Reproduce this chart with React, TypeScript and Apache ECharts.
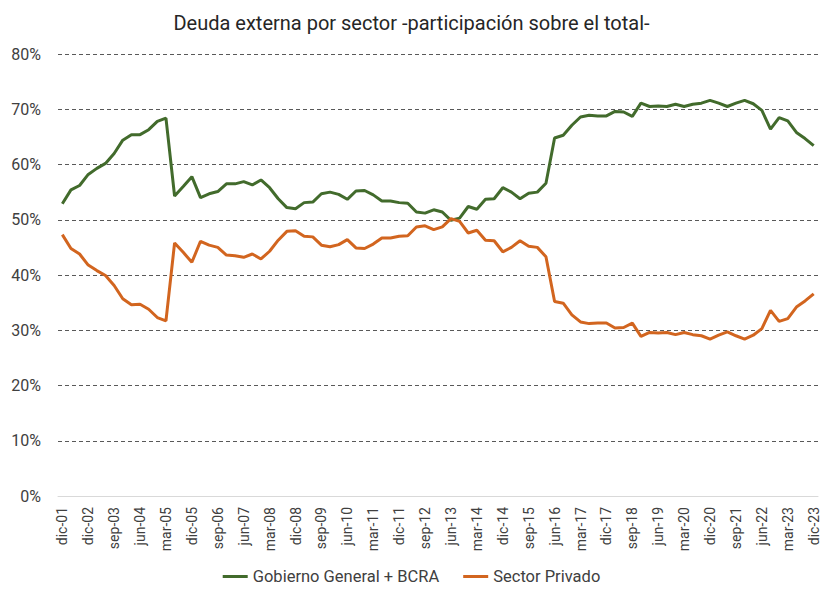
import React, { useEffect, useRef } from "react";
import * as echarts from "echarts";

const categories: string[] = [
  "dic-01", "jun-02", "sep-02", "dic-02",
  "mar-03", "jun-03", "sep-03", "dic-03",
  "mar-04", "jun-04", "sep-04", "dic-04",
  "mar-05", "jun-05", "sep-05", "dic-05",
  "mar-06", "jun-06", "sep-06", "dic-06",
  "mar-07", "jun-07", "sep-07", "dic-07",
  "mar-08", "jun-08", "sep-08", "dic-08",
  "mar-09", "jun-09", "sep-09", "dic-09",
  "mar-10", "jun-10", "sep-10", "dic-10",
  "mar-11", "jun-11", "sep-11", "dic-11",
  "mar-12", "jun-12", "sep-12", "dic-12",
  "mar-13", "jun-13", "sep-13", "dic-13",
  "mar-14", "jun-14", "sep-14", "dic-14",
  "mar-15", "jun-15", "sep-15", "dic-15",
  "mar-16", "jun-16", "sep-16", "dic-16",
  "mar-17", "jun-17", "sep-17", "dic-17",
  "mar-18", "jun-18", "sep-18", "dic-18",
  "mar-19", "jun-19", "sep-19", "dic-19",
  "mar-20", "jun-20", "sep-20", "dic-20",
  "mar-21", "jun-21", "sep-21", "dic-21",
  "mar-22", "jun-22", "sep-22", "dic-22",
  "mar-23", "jun-23", "sep-23", "dic-23",
];

const gobiernoBCRA: number[] = [
  52.9, 55.4, 56.2, 58.2, 59.3, 60.2, 62.0, 64.4, 65.4, 65.4,
  66.3, 67.8, 68.4, 54.3, 56.0, 57.8, 54.0, 54.7, 55.1, 56.5,
  56.5, 56.9, 56.3, 57.2, 55.8, 53.8, 52.2, 52.0, 53.1, 53.2,
  54.7, 55.0, 54.6, 53.7, 55.2, 55.3, 54.5, 53.4, 53.4, 53.1,
  53.0, 51.4, 51.2, 51.8, 51.4, 49.9, 50.3, 52.4, 51.9, 53.7,
  53.8, 55.8, 55.0, 53.8, 54.8, 55.0, 56.6, 64.8, 65.3, 67.1,
  68.6, 68.9, 68.8, 68.8, 69.6, 69.5, 68.7, 71.1, 70.5, 70.6,
  70.5, 70.9, 70.5, 70.9, 71.1, 71.6, 71.1, 70.5, 71.1, 71.6,
  71.0, 69.8, 66.4, 68.5, 67.9, 65.8, 64.7, 63.4,
];

const sectorPrivado: number[] = [
  47.3, 44.8, 43.8, 41.8, 40.8, 39.9, 38.1, 35.7, 34.6, 34.7,
  33.8, 32.3, 31.7, 45.8, 44.1, 42.3, 46.1, 45.4, 45.0, 43.6,
  43.5, 43.2, 43.8, 42.9, 44.3, 46.3, 47.9, 48.0, 47.0, 46.9,
  45.4, 45.1, 45.5, 46.4, 44.9, 44.8, 45.6, 46.7, 46.7, 47.0,
  47.1, 48.7, 48.9, 48.2, 48.7, 50.2, 49.7, 47.6, 48.1, 46.3,
  46.2, 44.2, 45.0, 46.2, 45.2, 45.0, 43.3, 35.2, 34.9, 32.8,
  31.5, 31.2, 31.3, 31.3, 30.4, 30.5, 31.3, 28.9, 29.6, 29.5,
  29.6, 29.2, 29.6, 29.2, 29.0, 28.4, 29.1, 29.7, 29.0, 28.4,
  29.1, 30.3, 33.6, 31.6, 32.1, 34.2, 35.3, 36.6,
];

const yTicks: number[] = [0, 10, 20, 30, 40, 50, 60, 70, 80];

const GREEN = "#426B2C";
const ORANGE = "#D2651F";
const FONT = "Roboto, 'Noto Sans', sans-serif";

export default function App() {
  const ref = useRef<HTMLDivElement>(null);

  useEffect(() => {
    if (!ref.current) return;
    const chart = echarts.init(ref.current, undefined, { renderer: "svg" });
    chart.setOption({
      animation: false,
      backgroundColor: "#ffffff",
      textStyle: { fontFamily: FONT },
      title: {
        text: "Deuda externa por sector -participación sobre el total-",
        left: "center",
        top: 8,
        textStyle: {
          fontFamily: FONT,
          fontSize: 20,
          fontWeight: "normal",
          color: "#262626",
        },
      },
      legend: {
        top: 563,
        left: "center",
        icon: "rect",
        itemWidth: 25,
        itemHeight: 3,
        itemGap: 24,
        textStyle: { fontFamily: FONT, fontSize: 16.5, color: "#404040" },
        data: ["Gobierno General + BCRA", "Sector Privado"],
      },
      grid: { left: 58, right: 5, top: 54, bottom: 93, containLabel: false },
      xAxis: {
        type: "category",
        data: categories,
        boundaryGap: true,
        axisLine: { show: true, lineStyle: { color: "#d9d9d9", width: 1 } },
        axisTick: { show: false },
        axisLabel: {
          interval: 2,
          rotate: 90,
          margin: 11,
          fontFamily: FONT,
          fontSize: 14,
          color: "#404040",
        },
      },
      yAxis: {
        type: "value",
        min: yTicks[0],
        max: yTicks[yTicks.length - 1],
        interval: 10,
        axisLine: { show: false },
        axisTick: { show: false },
        axisLabel: {
          formatter: (v: number) => `${v}%`,
          fontFamily: FONT,
          fontSize: 16,
          color: "#404040",
          margin: 17,
        },
        splitLine: {
          show: true,
          showMinLine: false,
          lineStyle: { color: "#595959", type: [4, 3], width: 1 },
        },
      },
      series: [
        {
          name: "Gobierno General + BCRA",
          type: "line",
          data: gobiernoBCRA,
          showSymbol: false,
          symbol: "none",
          lineStyle: { color: GREEN, width: 3 },
          itemStyle: { color: GREEN },
        },
        {
          name: "Sector Privado",
          type: "line",
          data: sectorPrivado,
          showSymbol: false,
          symbol: "none",
          lineStyle: { color: ORANGE, width: 3 },
          itemStyle: { color: ORANGE },
        },
      ],
    });
    return () => chart.dispose();
  }, []);

  return (
    <div
      ref={ref}
      style={{ position: "absolute", left: 0, top: 0, width: 823, height: 589 }}
    />
  );
}
